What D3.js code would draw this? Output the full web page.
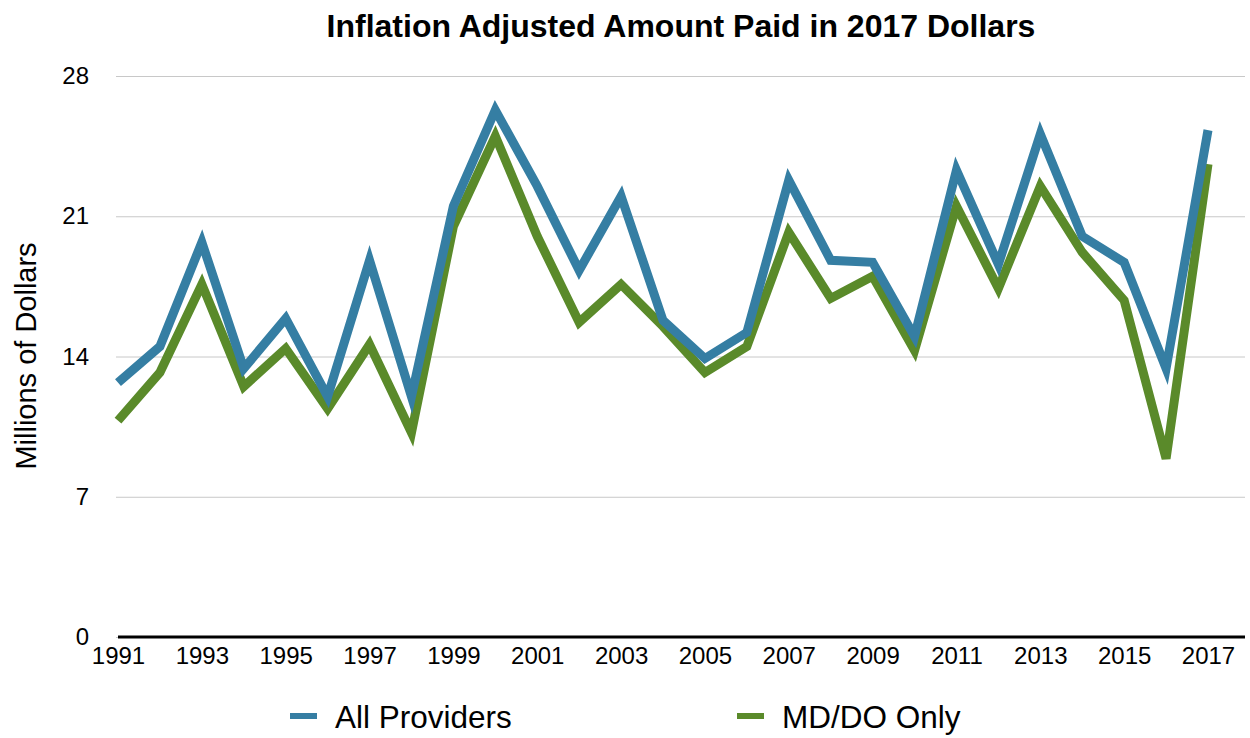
<!DOCTYPE html>
<html>
<head>
<meta charset="utf-8">
<script src="https://cdn.jsdelivr.net/npm/d3@7"></script>
<style>
  body { margin: 0; background: #fff; }
  text { font-family: "Liberation Sans", Arial, Helvetica, sans-serif; fill: #000; }
  .title { font-size: 32px; font-weight: bold; }
  .tick text { font-size: 24px; }
  .y-label { font-size: 29px; }
  .legend text { font-size: 31.5px; }
</style>
</head>
<body>
<svg class="chart" width="1250" height="738"></svg>
<script>
const years = [1991, 1992, 1993, 1994, 1995, 1996, 1997, 1998, 1999, 2000,
    2001, 2002, 2003, 2004, 2005, 2006, 2007, 2008, 2009, 2010,
    2011, 2012, 2013, 2014, 2015, 2016, 2017];

const allProviders = [12.7, 14.5, 19.7, 13.4, 15.9, 12.0, 18.8, 12.0, 21.5, 26.3,
    22.5, 18.3, 22.0, 15.8, 13.9, 15.2, 22.8, 18.8, 18.7, 15.0,
    23.3, 18.6, 25.1, 20.0, 18.7, 13.4, 25.3];

const mdDoOnly = [10.8, 13.2, 17.6, 12.5, 14.4, 11.4, 14.6, 10.2, 20.5, 25.0,
    20.0, 15.7, 17.6, 15.5, 13.2, 14.5, 20.2, 16.9, 18.0, 14.3,
    21.5, 17.4, 22.5, 19.2, 16.8, 8.9, 23.6];

const yTicks = [0, 7, 14, 21, 28];
const xTicks = years.filter((d, i) => i % 2 === 0);

const seriesNames = ['All Providers', 'MD/DO Only'];
const colors = ['#357ea3', '#5a8a2a'];

const svg = d3.select('.chart');

const margin = { left: 116, top: 76, right: 5, bottom: 101 };
const width = +svg.attr('width') - margin.left - margin.right;
const height = +svg.attr('height') - margin.top - margin.bottom;

const x = d3.scalePoint()
    .domain(years)
    .range([2, 1092]);

const y = d3.scaleLinear()
    .domain([0, 28])
    .range([height, 0]);

const g = svg.append('g')
    .attr('transform', `translate(${margin.left} ${margin.top})`);

// gridlines + y labels
const yAxisG = g.append('g')
    .call(d3.axisLeft(y)
        .tickValues(yTicks)
        .tickSize(-width)
        .tickPadding(27));
yAxisG.select('.domain').remove();
yAxisG.selectAll('.tick line').attr('stroke', '#c8c8c8').attr('stroke-width', 1);
yAxisG.selectAll('.tick text').attr('font-family', null).attr('font-size', null);

// x axis
const xAxisG = g.append('g')
    .attr('transform', `translate(0, ${height})`)
    .call(d3.axisBottom(x)
        .tickValues(xTicks)
        .tickSize(0)
        .tickPadding(10));
xAxisG.select('.domain').remove();
xAxisG.selectAll('.tick text').attr('font-family', null).attr('font-size', null);

xAxisG.append('line')
    .attr('x1', 2)
    .attr('x2', width)
    .attr('stroke', '#000')
    .attr('stroke-width', 3);

// lines, green under blue
const line = d3.line()
    .x((d, i) => x(years[i]))
    .y(d => y(d));

[mdDoOnly, allProviders].forEach((vals, k) => {
    g.append('path')
        .datum(vals)
        .attr('fill', 'none')
        .attr('stroke', colors[1 - k])
        .attr('stroke-width', 9)
        .attr('stroke-linejoin', 'miter')
        .attr('d', line);
});

// title
svg.append('text')
    .attr('class', 'title')
    .attr('x', 681)
    .attr('y', 37)
    .attr('text-anchor', 'middle')
    .text('Inflation Adjusted Amount Paid in 2017 Dollars');

// y label
svg.append('text')
    .attr('class', 'y-label')
    .attr('transform', 'translate(36, 356) rotate(-90)')
    .attr('text-anchor', 'middle')
    .text('Millions of Dollars');

// legend
const legendX = [290, 737];
const legend = svg.append('g').attr('class', 'legend');
seriesNames.forEach((name, i) => {
    legend.append('rect')
        .attr('x', legendX[i])
        .attr('y', 713)
        .attr('width', 27)
        .attr('height', 6)
        .attr('fill', colors[i]);
    legend.append('text')
        .attr('x', legendX[i] + 45)
        .attr('y', 728)
        .text(name);
});
</script>
</body>
</html>
